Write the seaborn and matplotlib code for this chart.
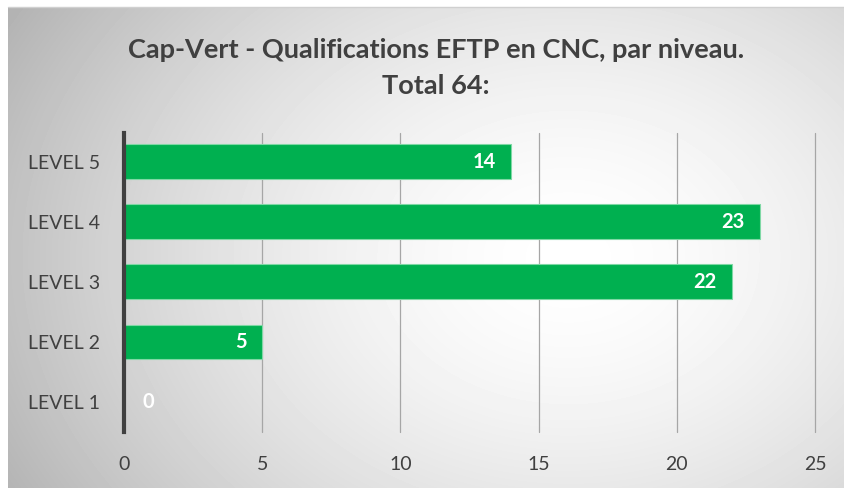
import numpy as np
import pandas as pd
import seaborn as sns
import matplotlib.pyplot as plt

levels = ["LEVEL 5", "LEVEL 4", "LEVEL 3", "LEVEL 2", "LEVEL 1"]
counts = [14, 23, 22, 5, 0]
title = "Cap-Vert - Qualifications EFTP en CNC, par niveau.\nTotal 64:"

df = pd.DataFrame({"level": levels, "count": counts})

sns.set_style("white")
plt.rcParams["font.family"] = ["Lato", "DejaVu Sans"]

fig = plt.figure(figsize=(8.45, 4.88), dpi=100)

# radial grey-white background
bg = fig.add_axes([8 / 845, 0, 1 - 8 / 845, 1 - 7 / 488], zorder=-10)
w, h = 837, 481
xx, yy = np.meshgrid(np.arange(w), np.arange(h))
r = np.sqrt(((xx - 560) / 560.0) ** 2 + ((yy - 250) / 430.0) ** 2)
shade = 1.0 - 0.24 * np.clip(r, 0, 1.25) ** 1.6
bg.imshow(shade, cmap="gray", vmin=0, vmax=1, aspect="auto", interpolation="bilinear",
          extent=(0, w, h, 0))
bg.set_xlim(0, w)
bg.set_ylim(h, 0)
bg.axis("off")
fig.add_artist(plt.Line2D([8 / 845, 1], [1 - 7 / 488, 1 - 7 / 488], color="#d0d0d0", lw=1))

ax = fig.add_axes([124 / 845, 1 - 432 / 488, (815 - 124) / 845, (432 - 133) / 488])
ax.patch.set_alpha(0)
sns.barplot(data=df, x="count", y="level", orient="h", color="#00B050",
            width=0.58, edgecolor="#7fd8a5", linewidth=0.8, saturation=1, ax=ax)

ax.set_xlim(0, 25)
ax.set_ylim(4.5, -0.48)
ax.set_xticks([0, 5, 10, 15, 20, 25])
ax.xaxis.grid(True, color="#a6a6a6", lw=0.9, clip_on=False)
ax.set_axisbelow(True)
for s in ["top", "right", "bottom"]:
    ax.spines[s].set_visible(False)
ax.spines["left"].set_color("#404040")
ax.spines["left"].set_linewidth(3)
ax.spines["left"].set_zorder(5)
ax.tick_params(axis="both", length=0, labelsize=14, labelcolor="#404040")
ax.tick_params(axis="y", pad=17)
ax.tick_params(axis="x", pad=17)
ax.set_xlabel("")
ax.set_ylabel("")

for i, v in enumerate(counts):
    if v > 0:
        ax.annotate(str(v), (v, i), xytext=(-11, 0), textcoords="offset points",
                    ha="right", va="center", color="white", fontsize=14.5,
                    fontweight="bold")
    else:
        ax.annotate(str(v), (v, i), xytext=(13, 0), textcoords="offset points",
                    ha="left", va="center", color="white", fontsize=14.5,
                    fontweight="bold")

fig.text(0.516, 1 - 68 / 488, title, ha="center", va="center", fontsize=19.5,
         fontweight="bold", color="#404040", linespacing=1.6)

fig.savefig("out.png", dpi=100)
